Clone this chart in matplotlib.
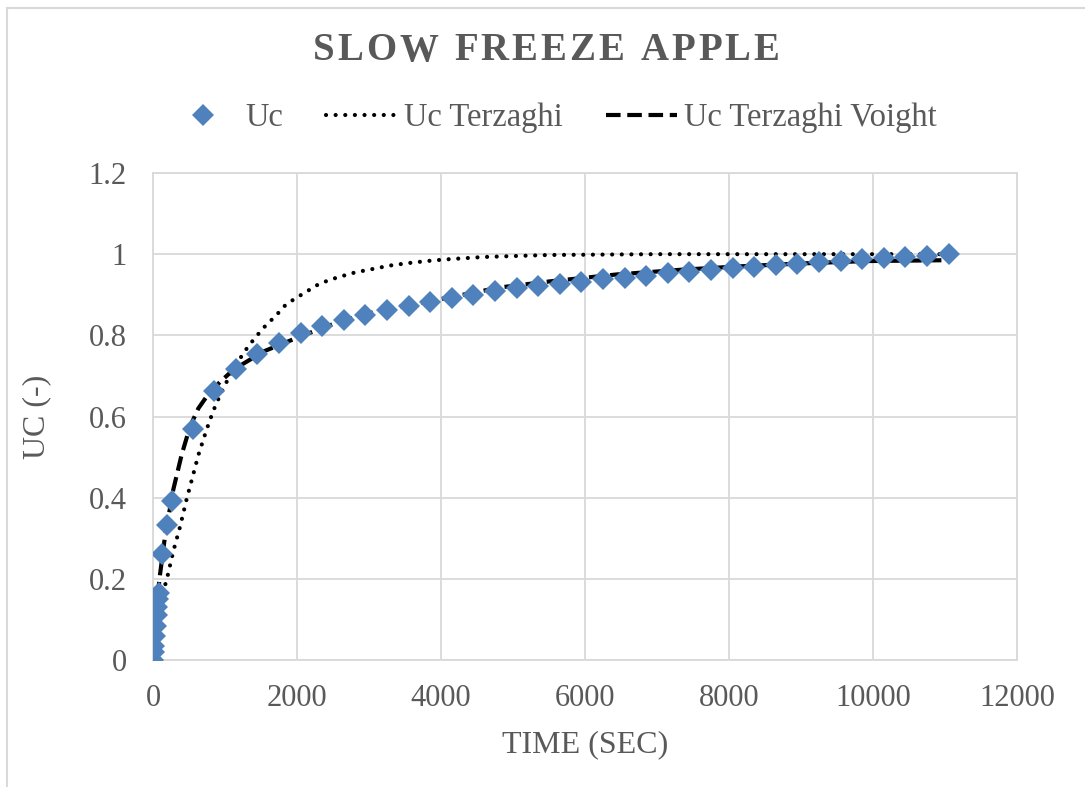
import matplotlib.pyplot as plt
from matplotlib.lines import Line2D

# measured Uc values
time_uc = [0, 10, 20, 30, 40, 50, 60, 70, 80, 130, 200, 260, 550,
           850, 1150, 1450, 1750, 2050, 2350, 2650, 2950, 3250, 3550,
           3850, 4150, 4450, 4750, 5050, 5350, 5650, 5950, 6250, 6550,
           6850, 7150, 7450, 7750, 8050, 8350, 8650, 8950, 9250, 9550,
           9850, 10150, 10450, 10750, 11050]
uc = [0, 0.02, 0.035, 0.06, 0.085, 0.11, 0.13, 0.15, 0.165, 0.26, 0.333, 0.392, 0.569,
      0.664, 0.717, 0.754, 0.782, 0.805, 0.823, 0.838, 0.850, 0.862, 0.872,
      0.883, 0.891, 0.899, 0.909, 0.916, 0.922, 0.927, 0.932, 0.938, 0.942,
      0.947, 0.953, 0.957, 0.961, 0.965, 0.969, 0.973, 0.977, 0.980, 0.984,
      0.987, 0.990, 0.994, 0.996, 1.000]

# Terzaghi model
time_terz = [0, 40, 80, 130, 200, 282, 375, 468, 560, 630, 745, 835, 930, 1000,
             1160, 1300, 1417, 1574, 1694, 1852, 2088, 2319, 2549, 2806, 3037,
             3292, 3546, 3800, 4056, 4588, 5500, 7000, 9000, 11050]
uc_terz = [0, 0.07, 0.11, 0.16, 0.205, 0.268, 0.328, 0.397, 0.458, 0.505, 0.568,
           0.613, 0.652, 0.678, 0.730, 0.767, 0.794, 0.826, 0.846, 0.877, 0.903,
           0.928, 0.942, 0.955, 0.963, 0.972, 0.978, 0.983, 0.987, 0.993, 0.998,
           1.0, 1.0, 1.0]

# Terzaghi-Voight model
time_voigt = [0, 30, 60, 97, 167, 282, 398, 514, 630, 768, 930, 1115, 1532,
              2042, 2550, 3199, 3986, 4819, 5514, 6440, 7366, 8153, 8986,
              9907, 10950]
uc_voigt = [0, 0.09, 0.15, 0.21, 0.305, 0.42, 0.506, 0.575, 0.62, 0.655, 0.685,
            0.715, 0.76, 0.797, 0.831, 0.864, 0.889, 0.918, 0.933, 0.950, 0.962,
            0.970, 0.977, 0.983, 0.985]

title = 'SLOW FREEZE APPLE'
series_names = ['Uc', 'Uc Terzaghi', 'Uc Terzaghi Voight']

grey_txt = '#595959'
grid_col = '#D9D9D9'
blue = '#4F81BD'
dot_style = (0, (0.01, 2.3))
dash_style = (0, (3.5, 1.6))
plt.rcParams['font.family'] = ['Liberation Serif', 'DejaVu Serif']

fig = plt.figure(figsize=(10.85, 7.87), dpi=100)
ax = fig.add_axes([153/1085, 1 - 660/787, 864/1085, 487/787])

ax.plot(time_terz, uc_terz, color='black', lw=3.0,
        linestyle=dot_style, dash_capstyle='round', zorder=2)
ax.plot(time_voigt, uc_voigt, color='black', lw=3.0,
        linestyle=dash_style, zorder=2)
ax.plot(time_uc, uc, linestyle='none', marker='D', markersize=11.5,
        color=blue, markeredgewidth=0, zorder=3)

ax.set_xlim(0, 12000)
ax.set_ylim(0, 1.2)
ax.set_xticks(range(0, 12001, 2000))
ax.set_yticks([0, 0.2, 0.4, 0.6, 0.8, 1.0, 1.2])
ax.set_yticklabels(['0', '0.2', '0.4', '0.6', '0.8', '1', '1.2'])
ax.grid(True, color=grid_col, lw=1.3, zorder=0)
ax.set_axisbelow(True)
for s in ax.spines.values():
    s.set_color(grid_col)
    s.set_linewidth(1.3)
ax.tick_params(length=0, labelsize=22, colors=grey_txt)
ax.tick_params(axis='y', pad=19)
ax.tick_params(axis='x', pad=17)

ax.set_xlabel('TIME (SEC)', fontsize=23, color=grey_txt, labelpad=13)
ax.set_ylabel('UC (-)', fontsize=23, color=grey_txt, labelpad=27)

# title with letter spacing, like the spreadsheet chart
renderer = fig.canvas.get_renderer()
spacing = 3.0  # px between letters
pieces = []
x_px = 0.0
for ch in title:
    t = fig.text(0, 1 - 51/787, ch, ha='left', va='center', fontsize=28,
                 fontweight='bold', color=grey_txt)
    w = t.get_window_extent(renderer).width if ch != ' ' else 10.0
    pieces.append((t, x_px))
    x_px += w + spacing
total = x_px - spacing
start = 546 - total / 2
for t, off in pieces:
    t.set_x((start + off) / 1085)

handles = [
    Line2D([], [], linestyle='none', marker='D', markersize=11.5, color=blue, markeredgewidth=0),
    Line2D([], [], color='black', lw=3.0, linestyle=dot_style, dash_capstyle='round'),
    Line2D([], [], color='black', lw=3.0, linestyle=dash_style),
]
fig.legend(handles, series_names, loc='center',
           bbox_to_anchor=(552/1085, 1 - 118/787), ncol=3, frameon=False,
           fontsize=23.5, labelcolor=grey_txt, handlelength=2.2, handletextpad=0.2,
           columnspacing=1.3)

# outer chart frame (only top and left visible)
fig.add_artist(Line2D([7/1085, 7/1085], [0, 1 - 8/787], transform=fig.transFigure,
                      color=grid_col, lw=1.5))
fig.add_artist(Line2D([7/1085, 1], [1 - 8/787, 1 - 8/787], transform=fig.transFigure,
                      color=grid_col, lw=1.5))

fig.savefig('out.png', dpi=100)
